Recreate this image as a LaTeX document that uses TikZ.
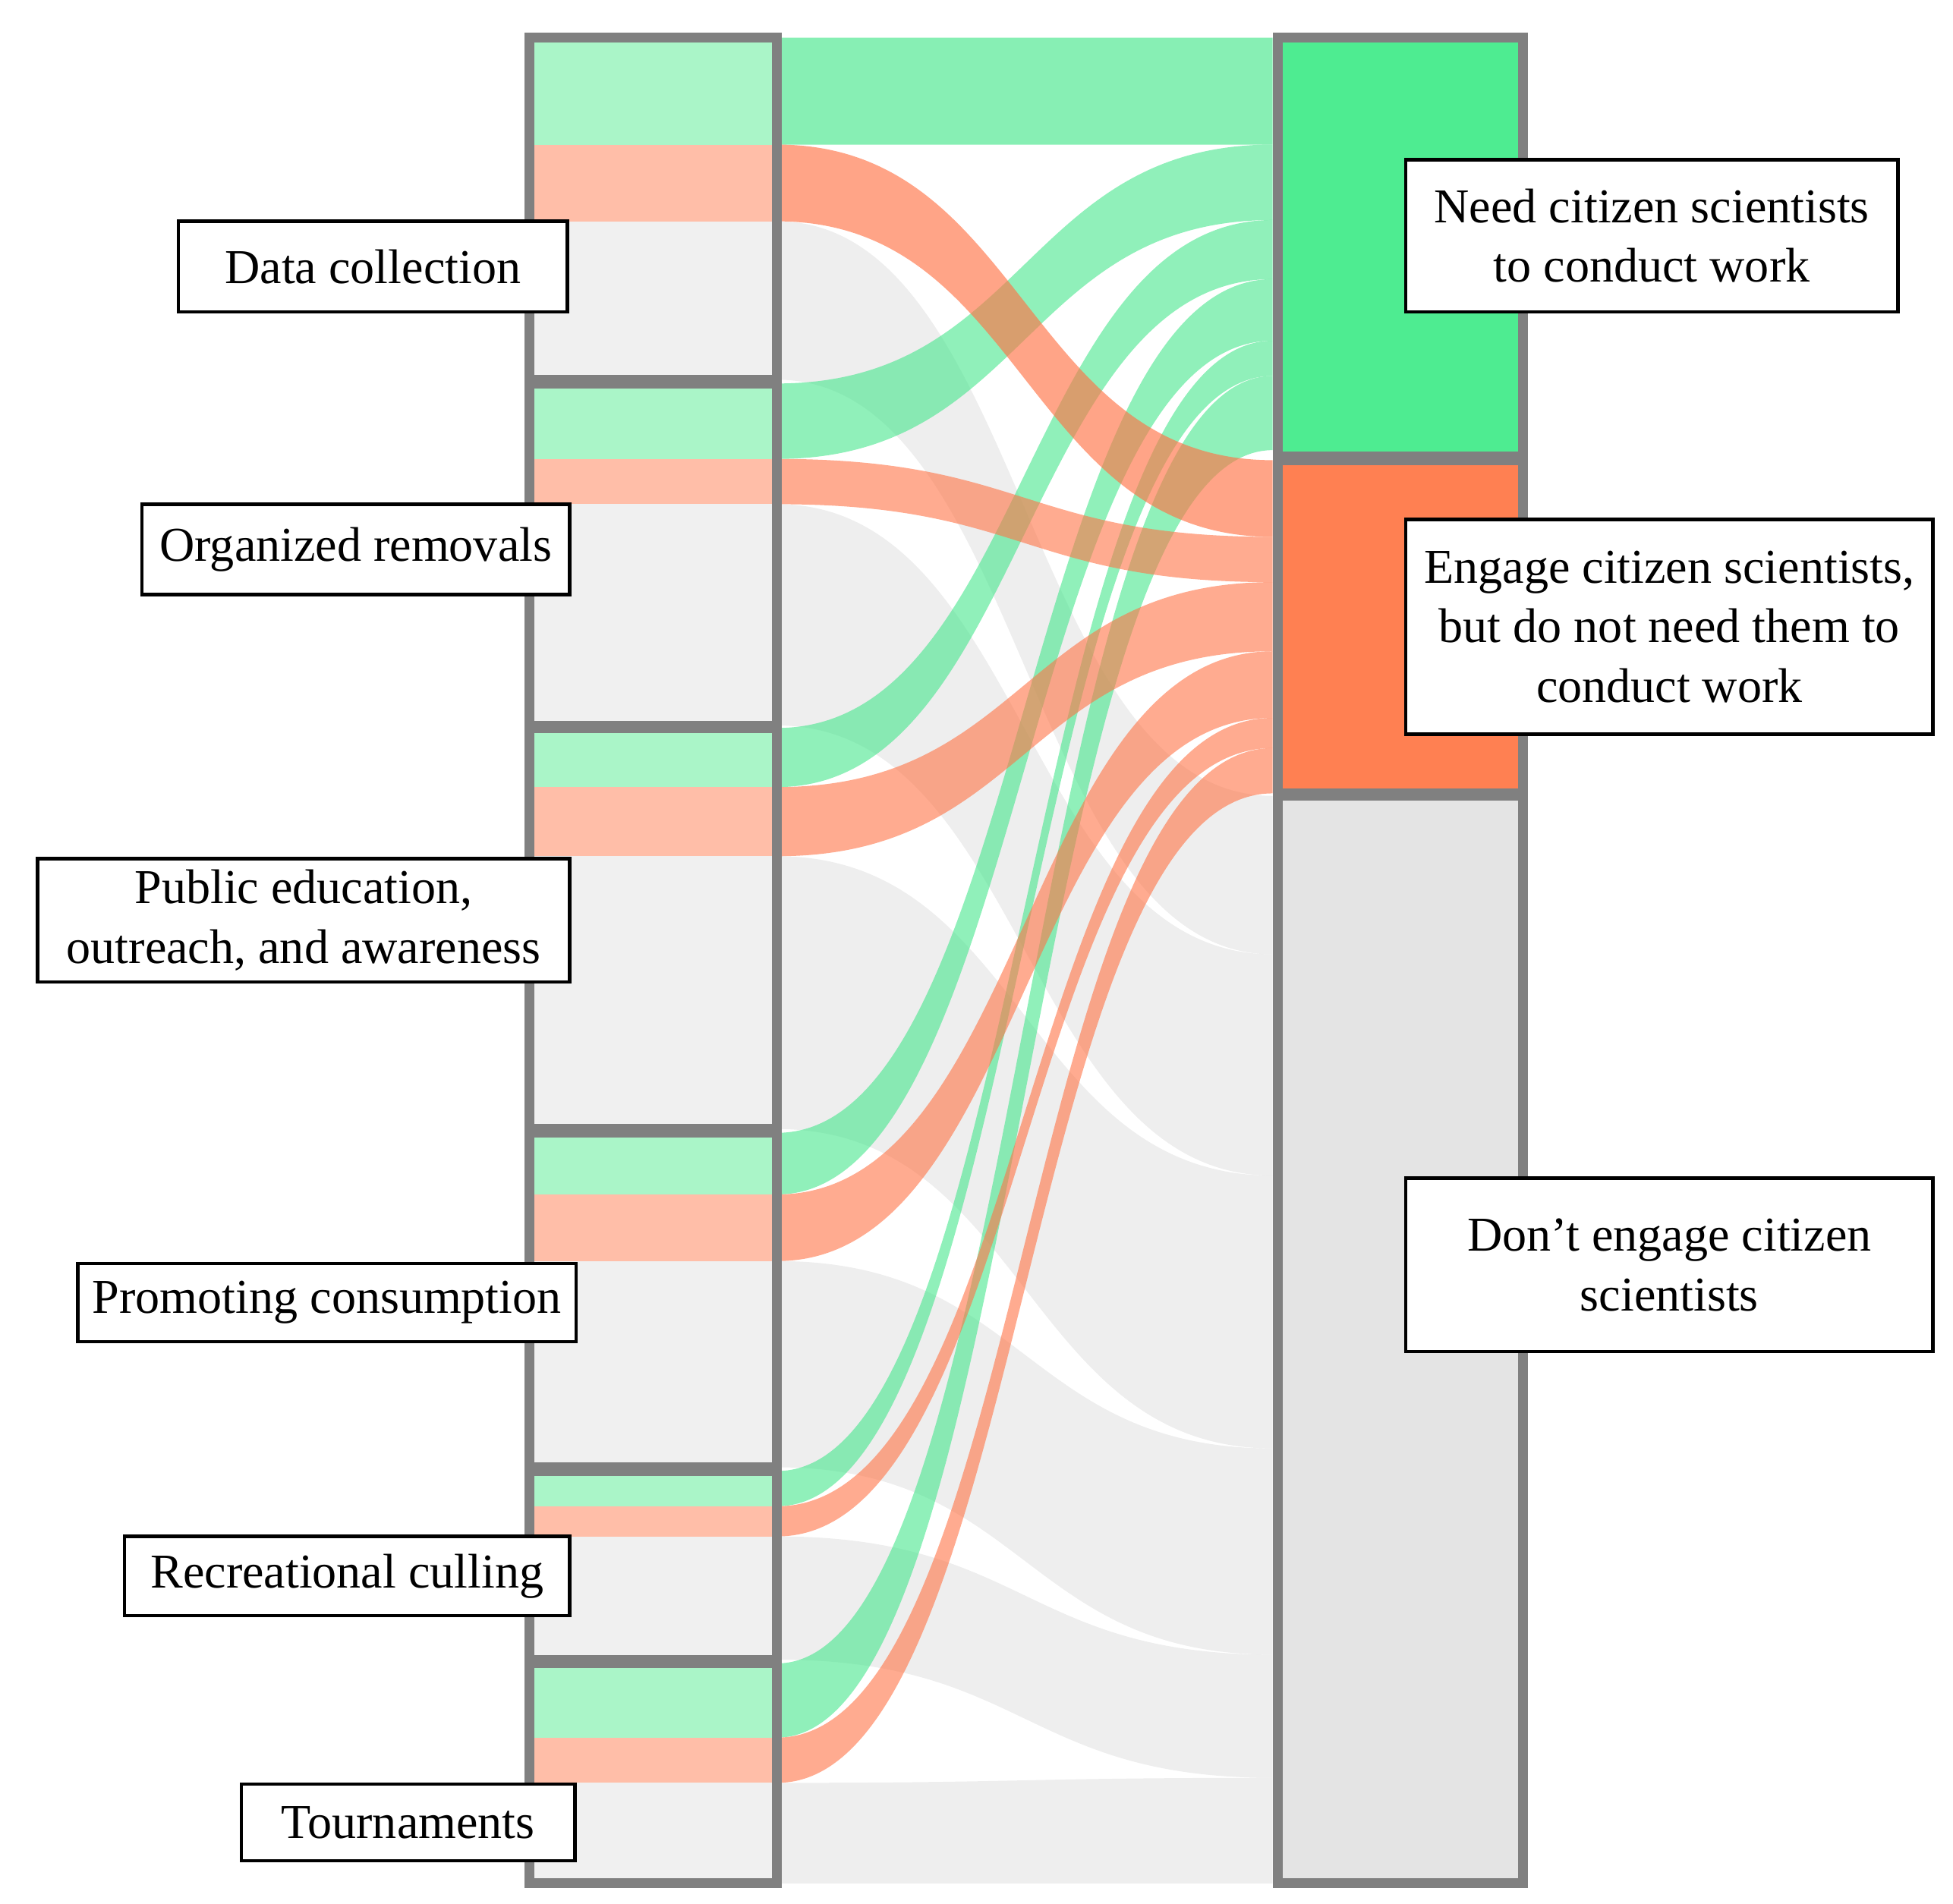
\documentclass[tikz,border=0pt]{standalone}
\usepackage{fontspec}
\setmainfont{Liberation Serif}
\definecolor{gf}{RGB}{70,230,140}
\definecolor{of}{RGB}{255,115,70}
\definecolor{kf}{RGB}{205,205,205}
\definecolor{lg}{RGB}{170,245,200}
\definecolor{lo}{RGB}{255,190,168}
\definecolor{lk}{RGB}{240,240,240}
\definecolor{rg}{RGB}{78,236,145}
\definecolor{ro}{RGB}{255,128,82}
\definecolor{rk}{RGB}{228,228,228}
\definecolor{bd}{RGB}{128,128,128}
\newcommand\myband[5]{\fill[#1] (618,#2) .. controls (815,#2) and (815,#4) .. (1012,#4) -- (1012,#5) .. controls (815,#5) and (815,#3) .. (618,#3) -- cycle;}
\tikzset{lab/.style={draw=black,line width=0.8pt,fill=white,font=\fontsize{11}{13.5}\selectfont,align=center,inner sep=0pt},
col/.style={draw=bd,line width=2.2pt}}
\begin{document}
\begin{tikzpicture}[x=0.01cm,y=-0.01cm]
\useasboundingbox (0,0) rectangle (1553,1514);
% grey flows
\myband{kf,opacity=0.35}{176}{302}{633}{759}
\myband{kf,opacity=0.35}{401}{577}{759}{935}
\myband{kf,opacity=0.35}{681}{898}{935}{1152}
\myband{kf,opacity=0.35}{1003}{1167}{1152}{1316}
\myband{kf,opacity=0.35}{1222}{1320}{1316}{1414}
\myband{kf,opacity=0.35}{1418}{1498}{1414}{1498}
% green flows
\myband{gf,opacity=0.65}{30}{115}{30}{115}
\myband{gf,opacity=0.6}{305}{365}{115}{175}
\myband{gf,opacity=0.6}{579}{626}{175}{222}
\myband{gf,opacity=0.6}{901}{950}{222}{271}
\myband{gf,opacity=0.6}{1170}{1198}{271}{299}
\myband{gf,opacity=0.6}{1323}{1382}{299}{358}
% orange flows
\myband{of,opacity=0.65}{115}{176}{366}{427}
\myband{of,opacity=0.6}{365}{401}{427}{463}
\myband{of,opacity=0.6}{626}{681}{463}{518}
\myband{of,opacity=0.6}{950}{1003}{518}{571}
\myband{of,opacity=0.6}{1198}{1222}{571}{595}
\myband{of,opacity=0.6}{1382}{1418}{595}{631}
% left column
\foreach \a/\b/\c/\d in {30/115/176/302,305/365/401/577,579/626/681/898,901/950/1003/1167,1170/1198/1222/1320,1323/1382/1418/1498}{
  \fill[lg] (421,\a) rectangle (618,\b);
  \fill[lo] (421,\b) rectangle (618,\c);
  \fill[lk] (421,\c) rectangle (618,\d);
  \draw[col] (421,\a) rectangle (618,\d);
}
% right column
\fill[rg] (1016,30) rectangle (1211,363);
\fill[ro] (1016,366) rectangle (1211,631);
\fill[rk] (1016,633) rectangle (1211,1498);
\draw[col] (1016,30) rectangle (1211,363);
\draw[col] (1016,366) rectangle (1211,631);
\draw[col] (1016,633) rectangle (1211,1498);
% labels
\node[lab,minimum width=3.09cm,minimum height=0.72cm] (dc) at (296.5,212) {Data collection};
\node[lab,minimum width=3.40cm,minimum height=0.72cm] (or) at (283,437) {Organized removals};
\node[lab,minimum width=4.23cm,minimum height=0.98cm] (pe) at (241.5,732) {Public education,\\outreach, and awareness};
\node[lab,minimum width=3.96cm,minimum height=0.62cm] (pc) at (260,1036) {Promoting consumption};
\node[lab,minimum width=3.54cm,minimum height=0.63cm] (rc) at (276,1253.5) {Recreational culling};
\node[lab,minimum width=2.65cm,minimum height=0.61cm] (tn) at (324.5,1449.5) {Tournaments};
\node[lab,minimum width=3.91cm,minimum height=1.21cm] (nd) at (1313.5,187.5) {Need citizen scientists\\to conduct work};
\node[lab,minimum width=4.19cm,minimum height=1.71cm] (en) at (1327.5,498.5) {Engage citizen scientists,\\but do not need them to\\conduct work};
\node[lab,minimum width=4.19cm,minimum height=1.38cm] (dn) at (1327.5,1006) {Don’t engage citizen\\scientists};
\end{tikzpicture}
\end{document}
